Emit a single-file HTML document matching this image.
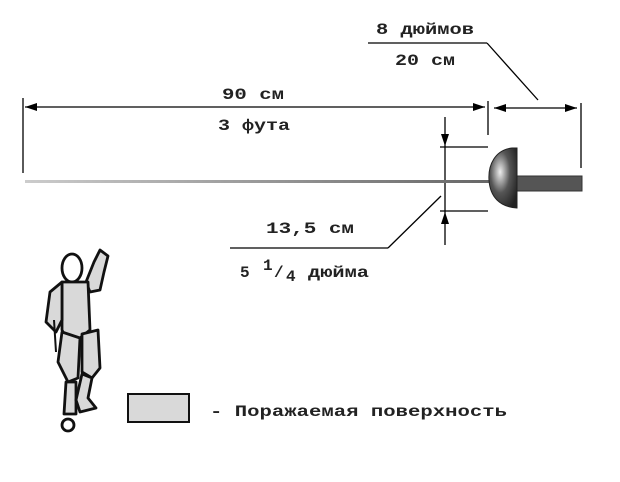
<!DOCTYPE html>
<html><head><meta charset="utf-8"><style>
html,body{margin:0;padding:0;background:#fff;width:620px;height:482px;overflow:hidden}
text{font-family:"Liberation Mono","DejaVu Sans Mono",monospace;font-weight:bold;font-size:16px;fill:#222}
</style></head><body>
<svg width="620" height="482" viewBox="0 0 620 482" xmlns="http://www.w3.org/2000/svg">
<defs>
<marker id="a" markerWidth="12" markerHeight="8" refX="12" refY="4" orient="auto" markerUnits="userSpaceOnUse"><path d="M0,0 L12,4 L0,8z" fill="#000"/></marker>
<linearGradient id="bl" x1="0" x2="1"><stop offset="0" stop-color="#ccc"/><stop offset="1" stop-color="#666"/></linearGradient>
<radialGradient id="gd" cx="0.4" cy="0.4" r="0.7"><stop offset="0" stop-color="#eee"/><stop offset="0.5" stop-color="#555"/><stop offset="1" stop-color="#222"/></radialGradient>
</defs>
<g stroke="#000" stroke-width="1.3" fill="none">
<line x1="368" y1="43" x2="487" y2="43"/>
<line x1="487" y1="43" x2="538" y2="100"/>
<line x1="23" y1="98" x2="23" y2="173"/>
<line x1="488" y1="101" x2="488" y2="135"/>
<line x1="80" y1="107" x2="25" y2="107" marker-end="url(#a)"/>
<line x1="80" y1="107" x2="485" y2="107" marker-end="url(#a)"/>
<line x1="581" y1="103" x2="581" y2="168"/>
<line x1="530" y1="108" x2="494" y2="108" marker-end="url(#a)"/>
<line x1="530" y1="108" x2="577" y2="108" marker-end="url(#a)"/>
<line x1="440" y1="147" x2="488" y2="147"/>
<line x1="440" y1="211" x2="488" y2="211"/>
<line x1="445" y1="117" x2="445" y2="146" marker-end="url(#a)"/>
<line x1="445" y1="245" x2="445" y2="212" marker-end="url(#a)"/>
<line x1="445" y1="146" x2="445" y2="212"/>
<line x1="441" y1="196" x2="388" y2="248"/>
<line x1="230" y1="248" x2="388" y2="248"/>
</g>
<rect x="25" y="180" width="468" height="3" fill="url(#bl)"/>
<rect x="515" y="176" width="67" height="15" fill="#555" stroke="#333"/>
<path d="M517,148 L512,148 C495,150 488,165 489,180 C490,197 500,207 517,208 Z" fill="url(#gd)" stroke="#222"/>
<text x="376" y="34" textLength="98" lengthAdjust="spacingAndGlyphs">8 дюймов</text>
<text x="395" y="65" textLength="60" lengthAdjust="spacingAndGlyphs">20 см</text>
<text x="222" y="99" textLength="62" lengthAdjust="spacingAndGlyphs">90 см</text>
<text x="218" y="130" textLength="72" lengthAdjust="spacingAndGlyphs">3 фута</text>
<text x="266" y="233" textLength="88" lengthAdjust="spacingAndGlyphs">13,5 см</text>
<text x="240" y="277">5</text>
<text x="263" y="270" font-size="13">1</text>
<text x="274" y="277">/</text>
<text x="286" y="281" font-size="13">4</text>
<text x="308" y="277" textLength="61" lengthAdjust="spacingAndGlyphs">дюйма</text>
<g stroke="#111" stroke-width="2.8" fill="#d9d9d9" stroke-linejoin="round">
<path d="M94,262 L100,250 L108,256 L104,272 L100,290 L90,292 L86,282 Z"/>
<ellipse cx="72" cy="268" rx="10" ry="14" fill="#fff"/>
<path d="M62,282 L88,282 L90,330 L80,338 L66,338 L62,330 Z"/>
<path d="M62,282 L50,292 L46,322 L56,332 L62,320 Z"/>
<path d="M62,332 L80,338 L78,378 L68,382 L58,362 Z"/>
<path d="M82,334 L98,330 L100,368 L92,378 L82,372 Z"/>
<path d="M66,382 L76,382 L76,414 L64,414 Z"/>
<path d="M82,374 L92,378 L88,398 L96,408 L80,412 L76,400 Z"/>
<circle cx="68" cy="425" r="6" fill="#fff"/>
<line x1="54" y1="320" x2="56" y2="352" stroke-width="2"/>
</g>
<rect x="128" y="394" width="61" height="28" fill="#d9d9d9" stroke="#111" stroke-width="2"/>
<text x="210" y="416" textLength="297" lengthAdjust="spacingAndGlyphs">- Поражаемая поверхность</text>
</svg>
</body></html>
